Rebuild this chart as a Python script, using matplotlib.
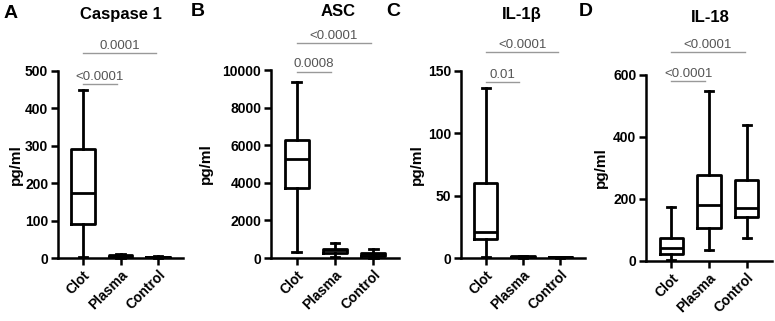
import matplotlib.pyplot as plt

plt.rcParams['font.family'] = ['Liberation Sans', 'DejaVu Sans']

W, H = 775, 321

groups = ['Clot', 'Plasma', 'Control']

# five-number summaries: whislo, q1, med, q3, whishi
caspase1 = [[3, 92, 175, 292, 450], [0, 2, 4, 8, 10], [1, 2, 3, 4, 5]]
asc = [[300, 3700, 5250, 6300, 9350], [50, 250, 400, 500, 800], [0, 100, 200, 250, 500]]
il1b = [[0.5, 15, 21, 60, 136], [0.2, 0.8, 1.2, 1.5, 2], [0.2, 0.5, 0.8, 1.0, 1.2]]
il18 = [[3, 22, 42, 75, 175], [35, 105, 180, 278, 548], [75, 143, 170, 262, 440]]

titles = ['Caspase 1', 'ASC', 'IL-1β', 'IL-18']
letters = ['A', 'B', 'C', 'D']
yticks = [[0, 100, 200, 300, 400, 500],
          [0, 2000, 4000, 6000, 8000, 10000],
          [0, 50, 100, 150],
          [0, 200, 400, 600]]

# p-values: (Clot vs Plasma, Clot vs Control) and bar heights
pvals = [['<0.0001', '0.0001'], ['0.0008', '<0.0001'], ['0.01', '<0.0001'], ['<0.0001', '<0.0001']]
bar_y = [[465, 548], [9900, 11440], [141, 165], [581, 674]]

# axes boxes in pixels: left, right, top, bottom
boxes = [(58, 183, 71, 258), (271, 399, 70, 258), (461, 585, 71, 258), (646, 772, 75, 261)]
title_pos = [(121, 15), (338, 12), (522, 15), (710, 18)]
letter_pos = [(11, 13), (198, 12), (393, 12), (586, 12)]
ylabel_x = [16, 206, 417, 601]

fig = plt.figure(figsize=(W / 100, H / 100), dpi=100)

for i, data in enumerate([caspase1, asc, il1b, il18]):
    l, r, t, b = boxes[i]
    ax = fig.add_axes([l / W, 1 - b / H, (r - l) / W, (b - t) / H])
    stats = [dict(whislo=d[0], q1=d[1], med=d[2], q3=d[3], whishi=d[4], fliers=[]) for d in data]
    lw = 2.0
    ax.bxp(stats, positions=[1, 2, 3], widths=0.62, capwidths=0.22, showfliers=False,
           boxprops=dict(color='black', linewidth=lw),
           whiskerprops=dict(color='black', linewidth=lw),
           capprops=dict(color='black', linewidth=lw),
           medianprops=dict(color='black', linewidth=lw))
    for art in ax.lines:
        art.set_clip_on(False)
    ax.set_xlim(0.33, 3.67)
    ax.set_ylim(0, yticks[i][-1])
    ax.set_yticks(yticks[i])
    ax.set_xticks([1, 2, 3])
    ax.set_xticklabels(groups, rotation=45, ha='right', rotation_mode='anchor',
                       fontsize=10, fontweight='bold')
    for lab in ax.get_yticklabels():
        lab.set_fontweight('bold')
        lab.set_fontsize(10)
    ax.tick_params(width=1.8, length=5, pad=2)
    for s in ['top', 'right']:
        ax.spines[s].set_visible(False)
    for s in ['left', 'bottom']:
        ax.spines[s].set_linewidth(1.8)

    # significance bars
    for j, (p, y) in enumerate(zip(pvals[i], bar_y[i])):
        x2 = [1.9, 2.95][j]
        ax.plot([1, x2], [y, y], color='#999999', linewidth=1.0, clip_on=False)
        ax.annotate(p, xy=((1 + x2) / 2, y), xytext=(0, 1), textcoords='offset points',
                    ha='center', va='bottom', fontsize=9.5, color='#555555',
                    annotation_clip=False)

    fig.text(title_pos[i][0] / W, 1 - title_pos[i][1] / H, titles[i],
             ha='center', va='center', fontsize=12, fontweight='bold')
    fig.text(letter_pos[i][0] / W, 1 - letter_pos[i][1] / H, letters[i],
             ha='center', va='center', fontsize=14, fontweight='bold')
    fig.text(ylabel_x[i] / W, 1 - ((t + b) / 2) / H, 'pg/ml', rotation=90,
             ha='center', va='center', fontsize=11, fontweight='bold')

fig.savefig('out.png', dpi=100)
